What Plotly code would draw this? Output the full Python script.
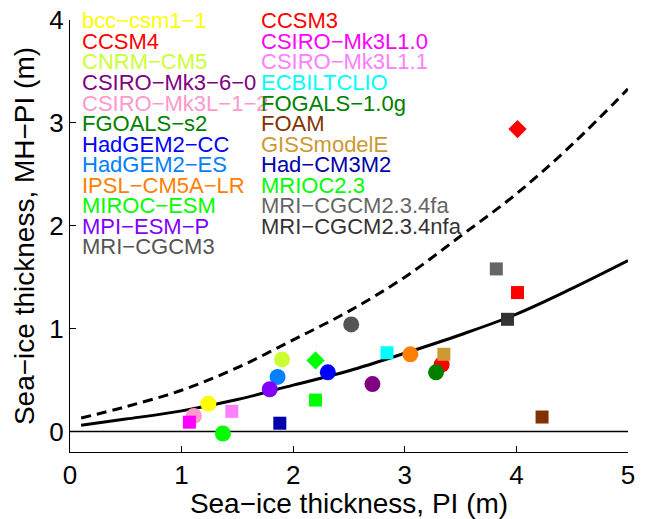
import plotly.graph_objects as go

# ---------------- data ----------------
# PMIP3 / CMIP5 models (circles)
pmip3_models = ["bcc−csm1−1", "CCSM4", "CNRM−CM5", "CSIRO−Mk3−6−0", "CSIRO−Mk3L−1−2",
                "FGOALS−s2", "HadGEM2−CC", "HadGEM2−ES", "IPSL−CM5A−LR", "MIROC−ESM",
                "MPI−ESM−P", "MRI−CGCM3"]
pmip3_colors = ["#FFFF00", "#FF0000", "#CCFF33", "#800080", "#FF99CC",
                "#008000", "#0000FF", "#0080FF", "#FF8000", "#00FF00",
                "#8000FF", "#555555"]
pmip3_pi = [1.24, 3.33, 1.90, 2.71, 1.11, 3.28, 2.31, 1.86, 3.05, 1.37, 1.79, 2.52]
pmip3_mh = [0.27, 0.65, 0.70, 0.46, 0.15, 0.575, 0.575, 0.53, 0.75, -0.02, 0.41, 1.04]

# PMIP2 models (squares)
pmip2_models = ["CCSM3", "CSIRO−Mk3L1.0", "CSIRO−Mk3L1.1", "ECBILTCLIO", "FOGALS−1.0g",
                "FOAM", "GISSmodelE", "Had−CM3M2", "MRIOC2.3", "MRI−CGCM2.3.4fa",
                "MRI−CGCM2.3.4nfa"]
pmip2_colors = ["#FF0000", "#FF00FF", "#FF80FF", "#00FFFF", "#008000",
                "#803300", "#CC9933", "#0000AA", "#00FF00", "#666666", "#333333"]
pmip2_pi = [4.01, 1.07, 1.45, 2.84, None, 4.23, 3.35, 1.88, 2.20, 3.82, 3.92]
pmip2_mh = [1.35, 0.09, 0.195, 0.765, None, 0.14, 0.75, 0.08, 0.305, 1.58, 1.09]

# alternative estimates (diamonds)
alt_colors = ["#FF0000", "#00FF00"]
alt_pi = [4.01, 2.20]
alt_mh = [2.94, 0.69]

# fitted relations
fit_x = [0.1, 0.5, 1.0, 1.5, 2.0, 2.5, 3.0, 3.5, 4.0, 4.5, 5.0]
fit_solid = [0.06, 0.12, 0.20, 0.31, 0.45, 0.59, 0.76, 0.94, 1.14, 1.39, 1.66]
fit_dashed = [0.13, 0.24, 0.40, 0.62, 0.89, 1.17, 1.50, 1.90, 2.31, 2.79, 3.33]

x_range = [0, 5]
y_range = [-0.2, 4]
x_ticks = [0, 1, 2, 3, 4, 5]
y_ticks = [0, 1, 2, 3, 4]

FONT = "Liberation Sans, Arial, Helvetica, sans-serif"

fig = go.Figure()

# zero line
fig.add_trace(go.Scatter(x=x_range, y=[0, 0], mode="lines",
                         line=dict(color="black", width=1.5), hoverinfo="skip"))
# fits
fig.add_trace(go.Scatter(x=fit_x, y=fit_dashed, mode="lines",
                         line=dict(color="black", width=3, dash="10px,6px", shape="spline")))
fig.add_trace(go.Scatter(x=fit_x, y=fit_solid, mode="lines",
                         line=dict(color="black", width=3, shape="spline")))

# circles
for name, c, xv, yv in zip(pmip3_models, pmip3_colors, pmip3_pi, pmip3_mh):
    fig.add_trace(go.Scatter(x=[xv], y=[yv], mode="markers", name=name,
                             marker=dict(symbol="circle", size=16, color=c, line=dict(width=0))))
# squares
for name, c, xv, yv in zip(pmip2_models, pmip2_colors, pmip2_pi, pmip2_mh):
    if xv is None:
        continue
    fig.add_trace(go.Scatter(x=[xv], y=[yv], mode="markers", name=name,
                             marker=dict(symbol="square", size=13, color=c, line=dict(width=0))))
# diamonds
for c, xv, yv in zip(alt_colors, alt_pi, alt_mh):
    fig.add_trace(go.Scatter(x=[xv], y=[yv], mode="markers",
                             marker=dict(symbol="diamond", size=14, color=c, line=dict(width=0))))

# text legend in two columns
L, R, T, B = 70, 18, 20, 67
W, H = 646, 519
pw, ph = W - L - R, H - T - B

def px2paper(px, py):
    return (px - L) / pw, (T + ph - py) / ph

annotations = []
for col, (models, colors) in enumerate([(pmip3_models, pmip3_colors), (pmip2_models, pmip2_colors)]):
    xpx = 80 if col == 0 else 259
    for i, (m, c) in enumerate(zip(models, colors)):
        xp, yp = px2paper(xpx, 21 + 20.5 * i)
        annotations.append(dict(x=xp, y=yp, xref="paper", yref="paper", text=m,
                                showarrow=False, xanchor="left", yanchor="middle",
                                font=dict(family=FONT, size=22, color=c)))

fig.update_layout(
    width=W, height=H,
    margin=dict(l=L, r=R, t=T, b=B, pad=0, autoexpand=False),
    paper_bgcolor="white", plot_bgcolor="white",
    showlegend=False,
    font=dict(family=FONT, color="black"),
    annotations=annotations,
    xaxis=dict(range=x_range, tickvals=x_ticks, ticks="inside", ticklen=6, tickwidth=1,
               tickcolor="black", showline=True, linecolor="black", linewidth=1.2,
               showgrid=False, zeroline=False, tickfont=dict(size=26, family=FONT),
               automargin=False, ticklabelstandoff=0,
               title=dict(text="Sea−ice thickness, PI (m)", font=dict(size=28, family=FONT),
                          standoff=8)),
    yaxis=dict(range=y_range, tickvals=y_ticks, ticks="inside", ticklen=6, tickwidth=1,
               tickcolor="black", showline=True, linecolor="black", linewidth=1.2,
               showgrid=False, zeroline=False, tickfont=dict(size=26, family=FONT),
               automargin=False,
               title=dict(text="Sea−ice thickness, MH−PI (m)", font=dict(size=28, family=FONT),
                          standoff=6)),
)

fig.write_html("out.html")
